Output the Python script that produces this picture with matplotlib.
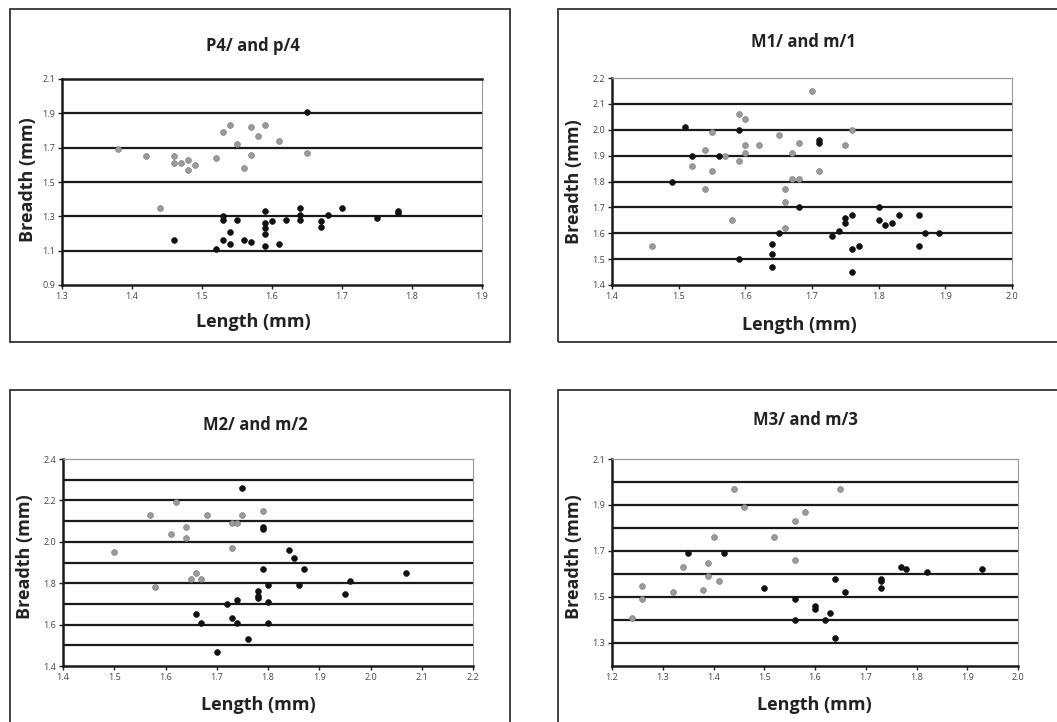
import matplotlib.pyplot as plt
import numpy as np
from matplotlib.patches import Rectangle
from matplotlib.ticker import MultipleLocator, FormatStrFormatter

plt.rcParams["font.family"] = ["Open Sans", "DejaVu Sans"]

W, H = 1057, 722

# P4/ and p/4
p4_gray_x = [1.38, 1.42, 1.46, 1.46, 1.47, 1.48, 1.48, 1.49, 1.52, 1.53, 1.54, 1.55,
             1.56, 1.57, 1.57, 1.58, 1.59, 1.61, 1.65, 1.44]
p4_gray_y = [1.69, 1.65, 1.65, 1.61, 1.61, 1.63, 1.57, 1.60, 1.64, 1.79, 1.83, 1.72,
             1.58, 1.66, 1.82, 1.77, 1.83, 1.74, 1.67, 1.35]
p4_black_x = [1.65, 1.46, 1.52, 1.53, 1.53, 1.53, 1.54, 1.54, 1.55, 1.56, 1.57, 1.59,
              1.59, 1.59, 1.59, 1.59, 1.60, 1.61, 1.62, 1.64, 1.64, 1.64, 1.67, 1.67,
              1.68, 1.70, 1.75, 1.78, 1.78]
p4_black_y = [1.91, 1.16, 1.11, 1.30, 1.28, 1.16, 1.21, 1.14, 1.28, 1.16, 1.15, 1.33,
              1.26, 1.23, 1.20, 1.13, 1.27, 1.14, 1.28, 1.35, 1.31, 1.28, 1.27, 1.24,
              1.31, 1.35, 1.29, 1.32, 1.33]

# M1/ and m/1
m1_gray_x = [1.46, 1.54, 1.52, 1.55, 1.54, 1.55, 1.57, 1.58, 1.59, 1.59, 1.60, 1.60,
             1.60, 1.62, 1.65, 1.66, 1.66, 1.66, 1.67, 1.68, 1.67, 1.68, 1.70, 1.71,
             1.75, 1.76]
m1_gray_y = [1.55, 1.92, 1.86, 1.84, 1.77, 1.99, 1.90, 1.65, 2.06, 1.88, 2.04, 1.94,
             1.91, 1.94, 1.98, 1.77, 1.72, 1.62, 1.91, 1.95, 1.81, 1.81, 2.15, 1.84,
             1.94, 2.00]
m1_black_x = [1.51, 1.52, 1.49, 1.56, 1.59, 1.59, 1.64, 1.64, 1.64, 1.65, 1.68, 1.71,
              1.71, 1.73, 1.74, 1.75, 1.75, 1.76, 1.76, 1.77, 1.76, 1.80, 1.80, 1.81,
              1.82, 1.83, 1.86, 1.86, 1.87, 1.89]
m1_black_y = [2.01, 1.90, 1.80, 1.90, 2.00, 1.50, 1.56, 1.52, 1.47, 1.60, 1.70, 1.96,
              1.95, 1.59, 1.61, 1.66, 1.64, 1.67, 1.54, 1.55, 1.45, 1.70, 1.65, 1.63,
              1.64, 1.67, 1.67, 1.55, 1.60, 1.60]

# M2/ and m/2
m2_gray_x = [1.50, 1.57, 1.58, 1.61, 1.62, 1.64, 1.64, 1.65, 1.66, 1.67, 1.68, 1.73,
             1.74, 1.73, 1.75, 1.79]
m2_gray_y = [1.95, 2.13, 1.78, 2.04, 2.19, 2.07, 2.02, 1.82, 1.85, 1.82, 2.13, 2.09,
             2.09, 1.97, 2.13, 2.15]
m2_black_x = [1.75, 1.79, 1.79, 1.79, 1.80, 1.78, 1.78, 1.78, 1.80, 1.74, 1.72, 1.73,
              1.74, 1.66, 1.67, 1.80, 1.76, 1.70, 1.84, 1.85, 1.87, 1.86, 1.95, 1.96,
              2.07]
m2_black_y = [2.26, 2.07, 2.06, 1.87, 1.79, 1.76, 1.74, 1.73, 1.71, 1.72, 1.70, 1.63,
              1.61, 1.65, 1.61, 1.61, 1.53, 1.47, 1.96, 1.92, 1.87, 1.79, 1.75, 1.81,
              1.85]

# M3/ and m/3
m3_gray_x = [1.24, 1.26, 1.26, 1.32, 1.34, 1.38, 1.39, 1.39, 1.40, 1.41, 1.44, 1.46,
             1.52, 1.56, 1.58, 1.56, 1.65]
m3_gray_y = [1.41, 1.55, 1.49, 1.52, 1.63, 1.53, 1.65, 1.59, 1.76, 1.57, 1.97, 1.89,
             1.76, 1.83, 1.87, 1.66, 1.97]
m3_black_x = [1.35, 1.42, 1.50, 1.56, 1.56, 1.60, 1.60, 1.62, 1.63, 1.64, 1.64, 1.66,
              1.73, 1.73, 1.73, 1.77, 1.78, 1.82, 1.93]
m3_black_y = [1.69, 1.69, 1.54, 1.49, 1.40, 1.46, 1.45, 1.40, 1.43, 1.58, 1.32, 1.52,
              1.58, 1.57, 1.54, 1.63, 1.62, 1.61, 1.62]

panels = [
    dict(title="P4/ and p/4", gx=p4_gray_x, gy=p4_gray_y, bx=p4_black_x, by=p4_black_y,
         xlim=(1.3, 1.9), ylim=(0.9, 2.1), ymajor=0.2, ygrid=0.2, ylab0=0.9, top_dark=True,
         axes=(62, 482, 79, 285), box=(10, 510, 9, 342),
         title_xy=(253, 46), xlabel_xy=(253, 322), ylabel_xy=(28, 180)),
    dict(title="M1/ and m/1", gx=m1_gray_x, gy=m1_gray_y, bx=m1_black_x, by=m1_black_y,
         xlim=(1.4, 2.0), ylim=(1.4, 2.2), ymajor=0.1, ygrid=0.1, ylab0=1.4, top_dark=False,
         axes=(612, 1012, 78, 285), box=(558, 1070, 9, 342),
         title_xy=(803, 42), xlabel_xy=(799, 325), ylabel_xy=(574, 182)),
    dict(title="M2/ and m/2", gx=m2_gray_x, gy=m2_gray_y, bx=m2_black_x, by=m2_black_y,
         xlim=(1.4, 2.2), ylim=(1.4, 2.4), ymajor=0.2, ygrid=0.1, ylab0=1.4, top_dark=False,
         axes=(63, 473, 459, 666), box=(10, 510, 390, 740),
         title_xy=(255, 425), xlabel_xy=(258, 705), ylabel_xy=(25, 557)),
    dict(title="M3/ and m/3", gx=m3_gray_x, gy=m3_gray_y, bx=m3_black_x, by=m3_black_y,
         xlim=(1.2, 2.0), ylim=(1.2, 2.1), ymajor=0.2, ygrid=0.1, ylab0=1.3, top_dark=False,
         axes=(612, 1018, 459, 666), box=(558, 1070, 390, 740),
         title_xy=(805, 420), xlabel_xy=(814, 705), ylabel_xy=(574, 557)),
]


def fx(px):
    return px / W


def fy(py):
    return 1 - py / H


fig = plt.figure(figsize=(W / 100, H / 100), dpi=100)

for p in panels:
    bl, br, bt, bb = p["box"]
    fig.add_artist(Rectangle((fx(bl), fy(bb)), fx(br - bl), (bb - bt) / H,
                             transform=fig.transFigure, fill=False,
                             edgecolor="#333333", linewidth=1.3))

    l, r, t, b = p["axes"]
    ax = fig.add_axes([fx(l), fy(b), fx(r - l), (b - t) / H])
    ax.set_xlim(*p["xlim"])
    ax.set_ylim(*p["ylim"])

    # horizontal grid lines (top edge only dark on the first panel)
    y0, y1 = p["ylim"]
    for yv in np.arange(y0 + p["ygrid"], y1 - 1e-6, p["ygrid"]):
        ax.axhline(yv, color="#1a1a1a", linewidth=1.6, zorder=1)
    if p["top_dark"]:
        ax.spines["top"].set_color("#1a1a1a")
        ax.spines["top"].set_linewidth(1.8)
    else:
        ax.spines["top"].set_color("#999999")
        ax.spines["top"].set_linewidth(0.9)

    ax.scatter(p["gx"], p["gy"], s=18, color="#9a9a9a", edgecolors="#777777",
               linewidths=0.4, zorder=3)
    ax.scatter(p["bx"], p["by"], s=18, color="#111111", edgecolors="#111111",
               linewidths=0.4, zorder=4)

    ax.xaxis.set_major_locator(MultipleLocator(0.1))
    ax.xaxis.set_major_formatter(FormatStrFormatter("%.1f"))
    yt = np.arange(p["ylab0"], y1 + 1e-6, p["ymajor"])
    ax.set_yticks(yt)
    ax.yaxis.set_major_formatter(FormatStrFormatter("%.1f"))
    ax.tick_params(labelsize=6.5, labelcolor="#444444", length=3, width=1,
                   color="#222222", pad=2)

    for side in ("left", "bottom"):
        ax.spines[side].set_linewidth(1.8)
        ax.spines[side].set_color("#1a1a1a")
    ax.spines["right"].set_color("#999999")
    ax.spines["right"].set_linewidth(0.8)

    tx, ty = p["title_xy"]
    fig.text(fx(tx), fy(ty), p["title"], ha="center", va="center",
             fontsize=12, fontweight="bold", color="#222222")
    lx, ly = p["xlabel_xy"]
    fig.text(fx(lx), fy(ly), "Length (mm)", ha="center", va="center",
             fontsize=13, fontweight="bold", color="#222222")
    yx, yy = p["ylabel_xy"]
    fig.text(fx(yx), fy(yy), "Breadth (mm)", ha="center", va="center",
             rotation=90, fontsize=13, fontweight="bold", color="#222222")

fig.savefig("out.png", dpi=100)
